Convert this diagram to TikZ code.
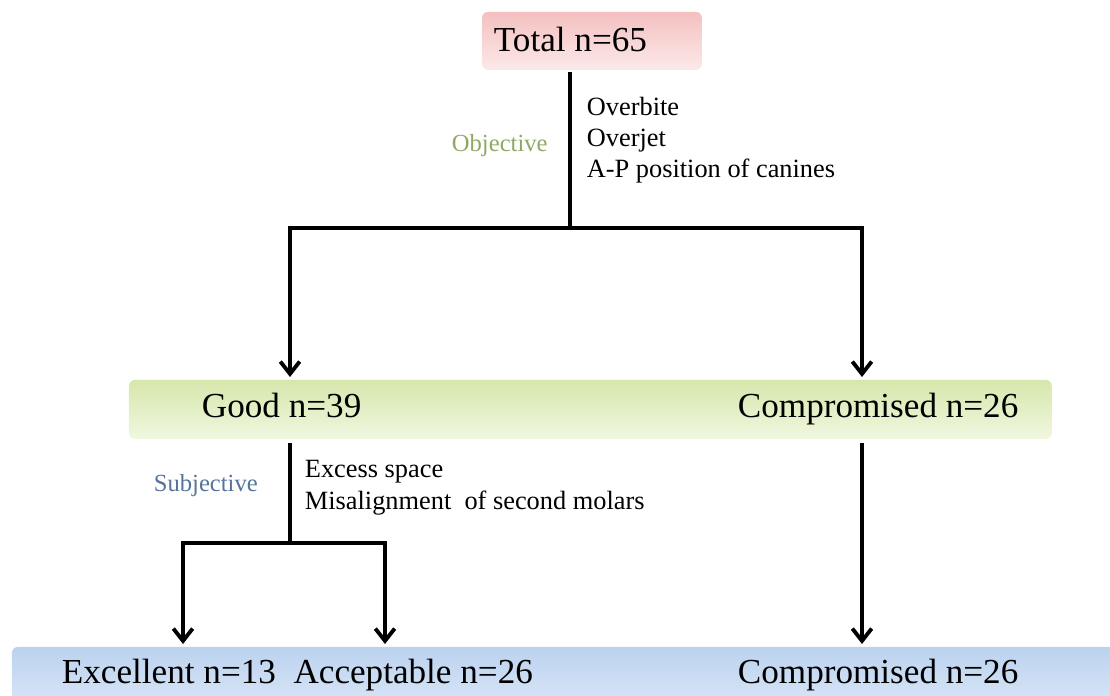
\documentclass[tikz,border=0pt]{standalone}
\usepackage{fontspec}
\setmainfont{Liberation Serif}
\newfontfamily\timesfont{Liberation Serif}
\usetikzlibrary{arrows.meta, positioning}

\definecolor{totaltop}{HTML}{F4C0C0}
\definecolor{totalbot}{HTML}{FCE9E9}
\definecolor{goodtop}{HTML}{D6E7AC}
\definecolor{goodbot}{HTML}{F0F7DF}
\definecolor{finaltop}{HTML}{BBD2EF}
\definecolor{finalbot}{HTML}{DCE8F8}
\definecolor{objgreen}{HTML}{8FA862}
\definecolor{subjblue}{HTML}{55739B}

\begin{document}
\begin{tikzpicture}[x=0.02cm,y=-0.02cm,line width=2.2pt,
	>={Straight Barb[length=7pt,width=11pt]}]
	
	\tikzset{box/.style={draw=none, rounded corners=0.12cm,
			anchor=north west, inner sep=0pt}}
	\tikzset{box total/.style={box, top color=totaltop, bottom color=totalbot}}
	\tikzset{box good/.style={box, top color=goodtop, bottom color=goodbot}}
	\tikzset{box final/.style={box, top color=finaltop, bottom color=finalbot}}
	\tikzset{big/.style={font=\timesfont\fontsize{20}{24}\selectfont,
			anchor=base west, inner sep=0pt}}
	\tikzset{small/.style={font=\timesfont\fontsize{15}{18}\selectfont,
			anchor=base west, inner sep=0pt}}
	\tikzset{label/.style={small, font=\timesfont\fontsize{14}{17}\selectfont}}
	
	\useasboundingbox (0,0) rectangle (1110,696);
	\clip (0,0) rectangle (1110,696);
	
	% boxes
	\node[box total, minimum width=4.4cm, minimum height=1.16cm] (total) at (480,10) {};
	\node[box good, minimum width=18.46cm, minimum height=1.18cm] (tier2) at (127,378) {};
	\node[box final, minimum width=22.4cm, minimum height=1.3cm] (tier3) at (10,645) {};
	
	% texts
	\node[big] (ttotal) at (492,52) {Total n=65};
	\node[big] (tgood) at (200,417) {Good n=39};
	\node[big] (tcomp) at (736,417) {Compromised n=26};
	\node[big] (texc) at (60,683) {Excellent n=13~ Acceptable n=26};
	\node[big] (tcomp2) at (736,683) {Compromised n=26};
	
	\node[label, text=objgreen] (objective) at (450,152) {Objective};
	\node[small] (c1) at (585,116) {Overbite};
	\node[small] (c2) at (585,147) {Overjet};
	\node[small] (c3) at (585,178) {A-P position of canines};
	
	\node[label, text=subjblue] (subjective) at (152,491) {Subjective};
	\node[small] (c4) at (303,477) {Excess space};
	\node[small] (c5) at (303,509) {Misalignment~ of second molars};
	
	% connectors
	\coordinate (split1) at (570,228);
	\coordinate (good in) at (290,377);
	\coordinate (comp in) at (862,377);
	\coordinate (good out) at (290,443);
	\coordinate (split2) at (290,543);
	\coordinate (comp out) at (862,443);
	\coordinate (exc in) at (183,644);
	\coordinate (acc in) at (385,644);
	\coordinate (comp2 in) at (862,644);
	
	\draw (total.south -| split1) -- (split1);
	\draw[->] (split1) -| (good in);
	\draw[->] (split1) -| (comp in);
	\draw (good out) -- (split2);
	\draw[->] (split2) -| (exc in);
	\draw[->] (split2) -| (acc in);
	\draw[->] (comp out) -- (comp2 in);
\end{tikzpicture}
\end{document}
